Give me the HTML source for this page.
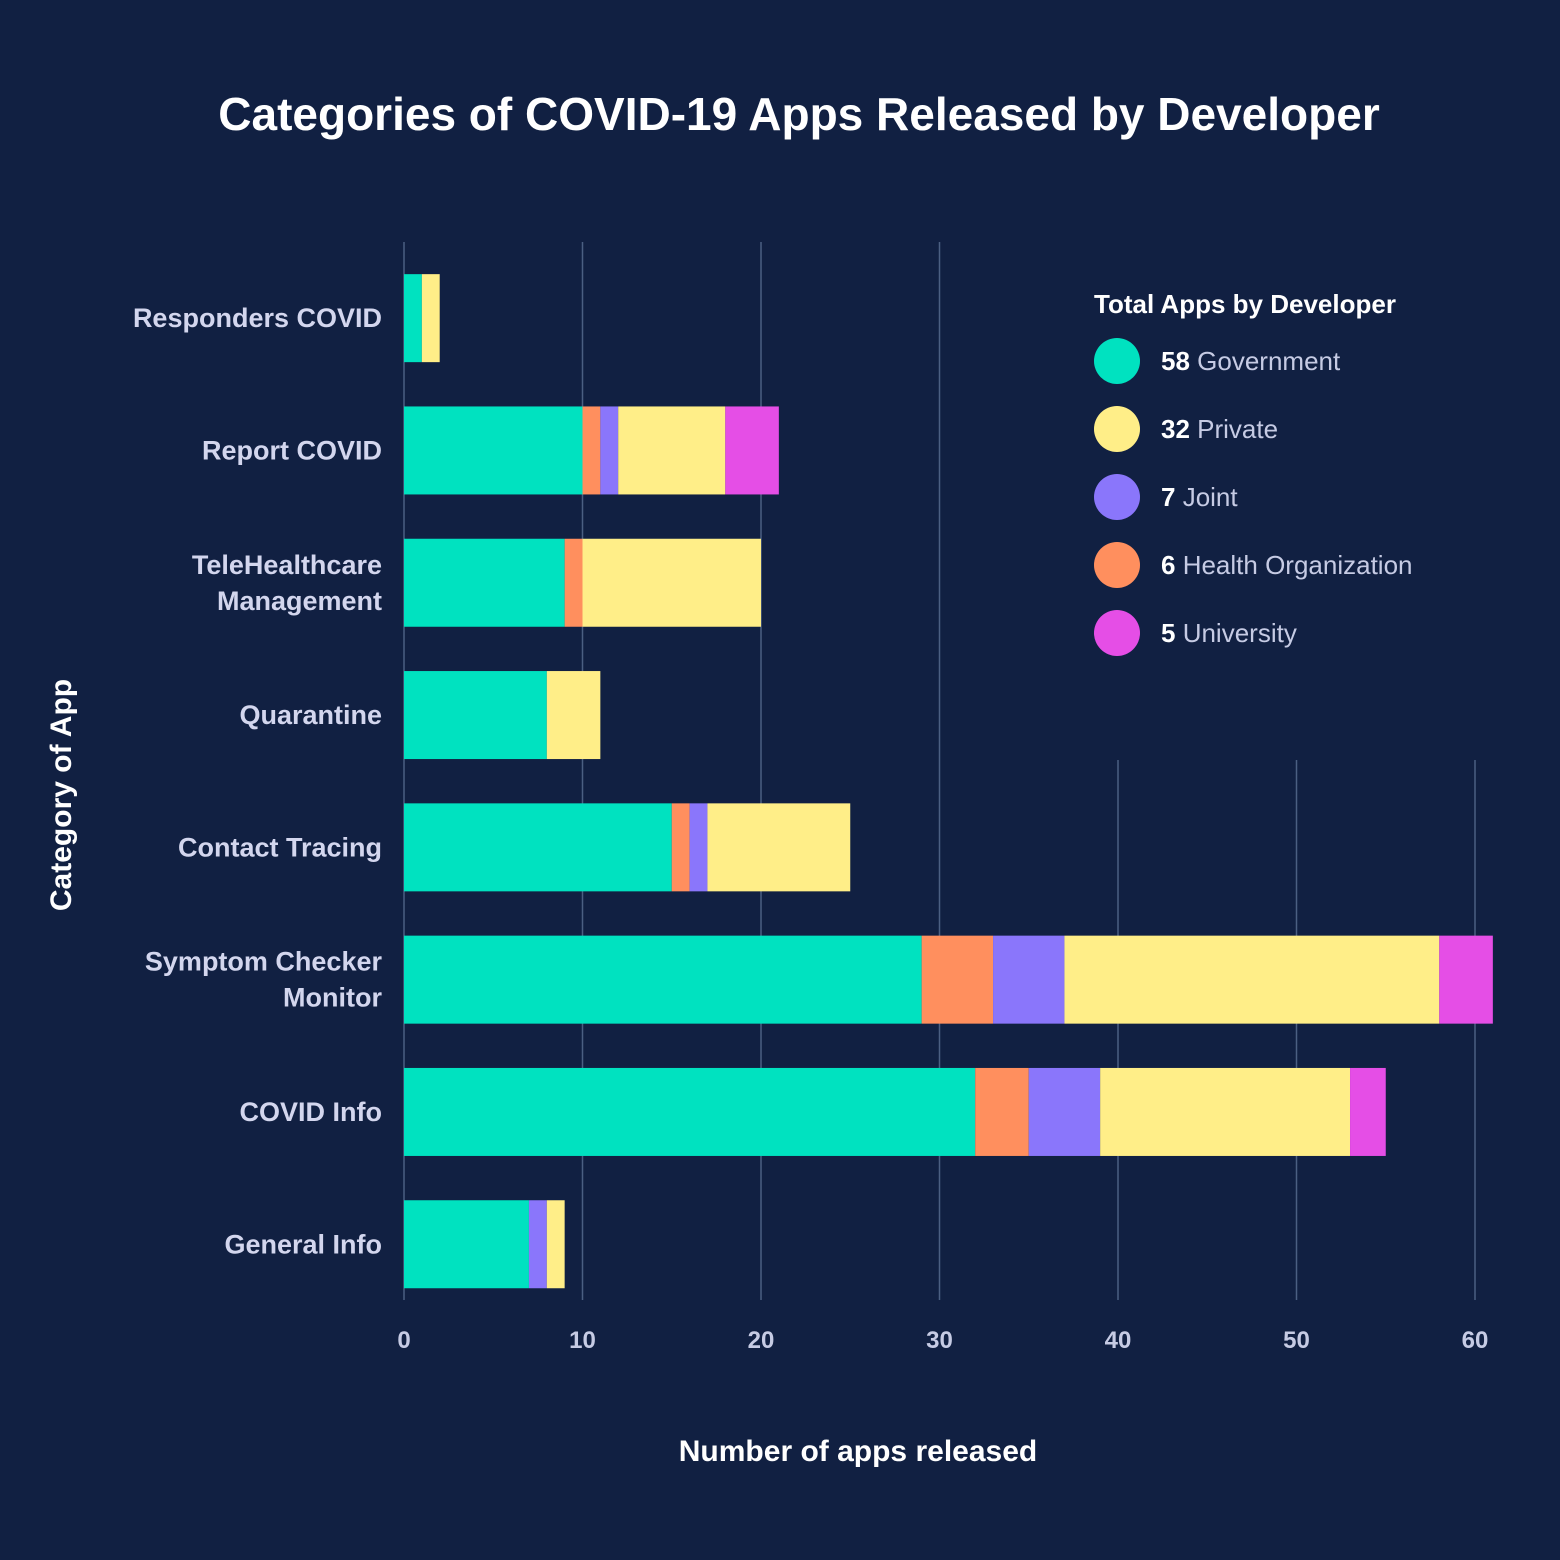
<!DOCTYPE html>
<html><head><meta charset="utf-8">
<style>
html,body{margin:0;padding:0;background:#112042;}
svg{display:block;font-family:"Liberation Sans",Arial,sans-serif;}
</style></head>
<body>
<svg id="chart" width="1560" height="1560" viewBox="0 0 1560 1560">
<rect x="0" y="0" width="1560" height="1560" fill="#112042"/>
<text x="799" y="130" text-anchor="middle" font-size="46" font-weight="bold" fill="#ffffff">Categories of COVID-19 Apps Released by Developer</text>
<g id="grid"></g>
<g id="bars"></g>
<g id="ylabels"></g>
<g id="xticks"></g>
<text x="858" y="1461" text-anchor="middle" font-size="30" font-weight="bold" fill="#ffffff">Number of apps released</text>
<text x="71" y="795" text-anchor="middle" font-size="30" font-weight="bold" fill="#ffffff" transform="rotate(-90 71 795)">Category of App</text>
<g id="legend"></g>
</svg>
<script>
const categories = ["Responders COVID","Report COVID","TeleHealthcare Management","Quarantine","Contact Tracing","Symptom Checker Monitor","COVID Info","General Info"];
const series = ["Government","Health Organization","Joint","Private","University"];
const government = [1,10,9,8,15,29,32,7];
const healthOrg = [0,1,1,0,1,4,3,0];
const joint = [0,1,0,0,1,4,4,1];
const privateDev = [1,6,10,3,8,21,14,1];
const university = [0,3,0,0,0,3,2,0];
const xTicks = [0,10,20,30,40,50,60];
const legendCounts = ["58","32","7","6","5"];
const legendNames = ["Government","Private","Joint","Health Organization","University"];

const colors = {"Government":"#00e2c0","Health Organization":"#ff8f5e","Joint":"#8a76fb","Private":"#ffee88","University":"#e54ee6"};
const NS = "http://www.w3.org/2000/svg";
const x0 = 404, pxPer = 17.85;
function xScale(v){ return x0 + v * pxPer; }
const yTop = 252, band = 132.3, barH = 88;
function yCenter(i){ return yTop + band * (i + 0.5); }
function mk(tag, attrs, parent){ const e = document.createElementNS(NS, tag); for (const k in attrs) e.setAttribute(k, attrs[k]); parent.appendChild(e); return e; }

const grid = document.getElementById('grid');
xTicks.forEach(t => {
  const gx = xScale(t);
  const topY = t >= 40 ? 760 : 242;
  const l = mk('line', {x1: gx, x2: gx, y1: topY, y2: 1300, stroke: '#4b5f82', 'stroke-width': 1.5}, grid);
  
  
});

const bars = document.getElementById('bars');
const seriesData = [government, healthOrg, joint, privateDev, university];
categories.forEach((c, i) => {
  let acc = 0;
  seriesData.forEach((arr, s) => {
    const v = arr[i];
    if (v > 0) {
      const r = mk('rect', {x: xScale(acc), y: yCenter(i) - barH / 2, width: xScale(acc + v) - xScale(acc), height: barH, fill: colors[series[s]]}, bars);
      
      
    }
    acc += v;
  });
});

const yl = document.getElementById('ylabels');
categories.forEach((c, i) => {
  let lines = [c];
  if (c === "TeleHealthcare Management") lines = ["TeleHealthcare", "Management"];
  if (c === "Symptom Checker Monitor") lines = ["Symptom Checker", "Monitor"];
  lines.forEach((ln, k) => {
    const yy = yCenter(i) + 9 + (k - (lines.length - 1) / 2) * 36;
    const t = mk('text', {x: 382, y: yy, 'text-anchor': 'end', 'font-size': 27, 'font-weight': 'bold', fill: '#d3d6ee'}, yl);
    t.textContent = ln;
    
    
  });
});

const xt = document.getElementById('xticks');
xTicks.forEach(t => {
  const e = mk('text', {x: xScale(t), y: 1348, 'text-anchor': 'middle', 'font-size': 24, 'font-weight': 'bold', fill: '#c6cbe4'}, xt);
  e.textContent = t;
  
  
});

const lg = document.getElementById('legend');
const lt = mk('text', {x: 1094, y: 313, 'font-size': 26, 'font-weight': 'bold', fill: '#ffffff'}, lg);
lt.textContent = 'Total Apps by Developer';


legendNames.forEach((n, k) => {
  const cy = 361 + k * 68;
  const c = mk('circle', {cx: 1117, cy: cy, r: 23, fill: colors[n]}, lg);
  
  
  const t = mk('text', {x: 1161, y: cy + 9, 'font-size': 26, fill: '#c6cbe4'}, lg);
  const b = document.createElementNS(NS, 'tspan');
  b.setAttribute('font-weight', 'bold');
  b.setAttribute('fill', '#ffffff');
  b.textContent = legendCounts[k] + ' ';
  t.appendChild(b);
  t.appendChild(document.createTextNode(n));
  
  
});
</script>
</body></html>
